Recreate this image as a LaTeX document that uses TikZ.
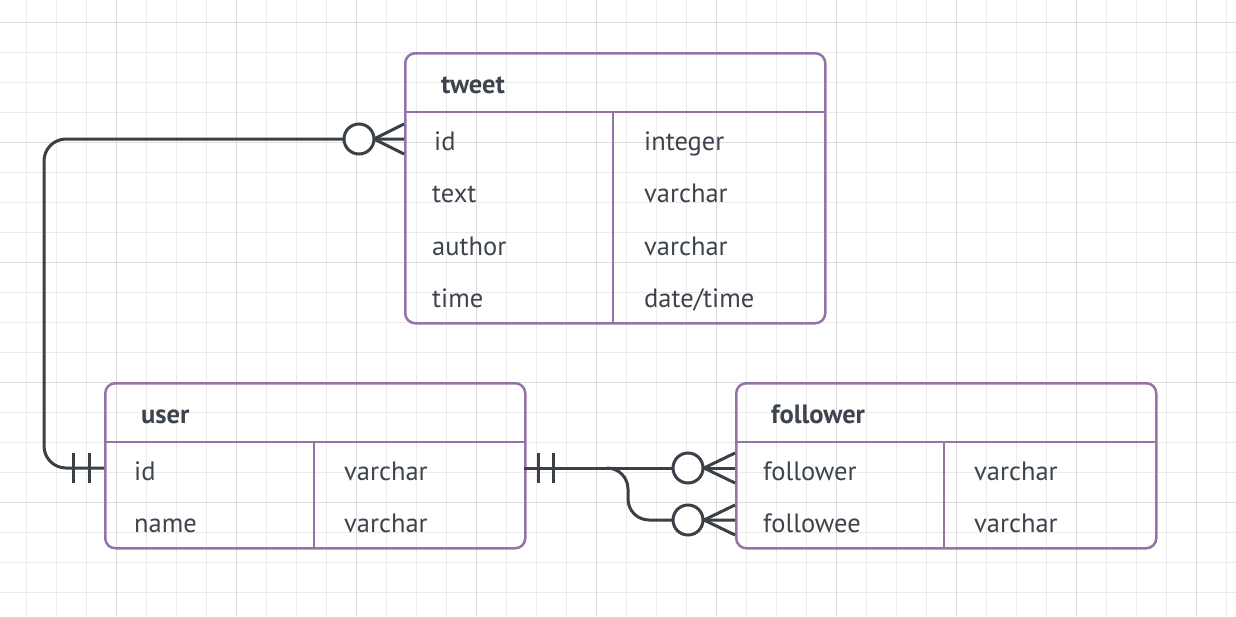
\documentclass[tikz,border=0pt]{standalone}
\usepackage{fontspec}
\setmainfont{PT Sans}
\definecolor{tblc}{HTML}{9673A6}
\definecolor{txtc}{HTML}{3D444C}
\definecolor{connc}{HTML}{394048}
\definecolor{gminor}{HTML}{EBEBEB}
\definecolor{gmajor}{HTML}{DCDCDC}
\begin{document}
\begin{tikzpicture}[x=1pt,y=-1pt,
  minorg/.style={draw=gminor, line width=1pt},
  majorg/.style={draw=gmajor, line width=1pt},
  tbl/.style={draw=tblc, line width=2.5pt, rounded corners=10pt, minimum width=420pt, inner sep=0pt, anchor=north west},
  tblline/.style={draw=tblc, line width=2.5pt},
  txt/.style={text=txtc, inner sep=0pt, anchor=base west, font=\fontsize{26.5}{30}\selectfont},
  hdr/.style={txt, font=\fontsize{26.5}{30}\selectfont\bfseries},
  conn/.style={draw=connc, line width=3pt},
  ocircle/.style={circle, draw=connc, line width=3pt, fill=white, minimum size=30pt, inner sep=0pt}
]
\useasboundingbox[fill=white] (0,0) rectangle (1236,616);
% grid
\foreach \i in {0,...,40} \draw[minorg] ({26.7+30*\i},0) -- ({26.7+30*\i},616);
\foreach \j in {0,...,19} \draw[minorg] (0,{22.3+30*\j}) -- (1236,{22.3+30*\j});
\foreach \i in {0,...,9} \draw[majorg] ({116.7+120*\i},0) -- ({116.7+120*\i},616);
\foreach \j in {0,...,4} \draw[majorg] (0,{22.3+120*\j}) -- (1236,{22.3+120*\j});

% tweet table
\node[tbl, minimum height=270pt] (tweet) at (404,52) {};
\draw[tblline] (404,112) -- (824,112);
\draw[tblline] (613,112) -- (613,322);
\node[hdr] (tweet-h) at (441,93) {tweet};
\node[txt] (tweet-id) at (434,150) {id};
\node[txt] (tweet-text) at (432,202) {text};
\node[txt] (tweet-author) at (432,255) {author};
\node[txt] (tweet-time) at (432,307) {time};
\node[txt] (tweet-id-t) at (644,150) {integer};
\node[txt] (tweet-text-t) at (644,202) {varchar};
\node[txt] (tweet-author-t) at (644,255) {varchar};
\node[txt] (tweet-time-t) at (644,307) {date/time};

% user table
\node[tbl, minimum height=165pt] (user) at (104,382) {};
\draw[tblline] (104,442) -- (524,442);
\draw[tblline] (314,442) -- (314,547);
\node[hdr] (user-h) at (141,423) {user};
\node[txt] (user-id) at (134,480) {id};
\node[txt] (user-name) at (134,532) {name};
\node[txt] (user-id-t) at (344,480) {varchar};
\node[txt] (user-name-t) at (344,532) {varchar};

% follower table
\node[tbl, minimum height=165pt] (fol) at (735,382) {};
\draw[tblline] (735,442) -- (1155,442);
\draw[tblline] (944,442) -- (944,547);
\node[hdr] (fol-h) at (771,423) {follower};
\node[txt] (fol-a) at (763,480) {follower};
\node[txt] (fol-b) at (763,532) {followee};
\node[txt] (fol-a-t) at (974,480) {varchar};
\node[txt] (fol-b-t) at (974,532) {varchar};

% connection points
\coordinate (p-tweet) at (404,139);
\coordinate (p-user-l) at (104,468);
\coordinate (p-user-r) at (524,468);
\coordinate (p-fol-a) at (735,468);
\coordinate (p-fol-b) at (735,520);
\coordinate (split) at (607,468);

% connector tweet - user
\draw[conn, rounded corners=22pt] (p-tweet) -- (44,139) -- (44,468) -- (p-user-l);
\node[ocircle] (o1) at (359,139) {};
\draw[conn] (374,139) -- (404,124) (374,139) -- (404,154);
\draw[conn] (73,453) -- (73,483) (89,453) -- (89,483);

% connector user - follower
\draw[conn] (p-user-r) -- (p-fol-a);
\draw[conn, rounded corners=21pt] (split) -- (628,468) -- (628,520) -- (p-fol-b);
\node[ocircle] (o2) at (688,468) {};
\node[ocircle] (o3) at (688,520) {};
\draw[conn] (704,468) -- (735,453) (704,468) -- (735,483);
\draw[conn] (704,520) -- (735,505) (704,520) -- (735,535);
\draw[conn] (538,453) -- (538,483) (553,453) -- (553,483);
\end{tikzpicture}
\end{document}
